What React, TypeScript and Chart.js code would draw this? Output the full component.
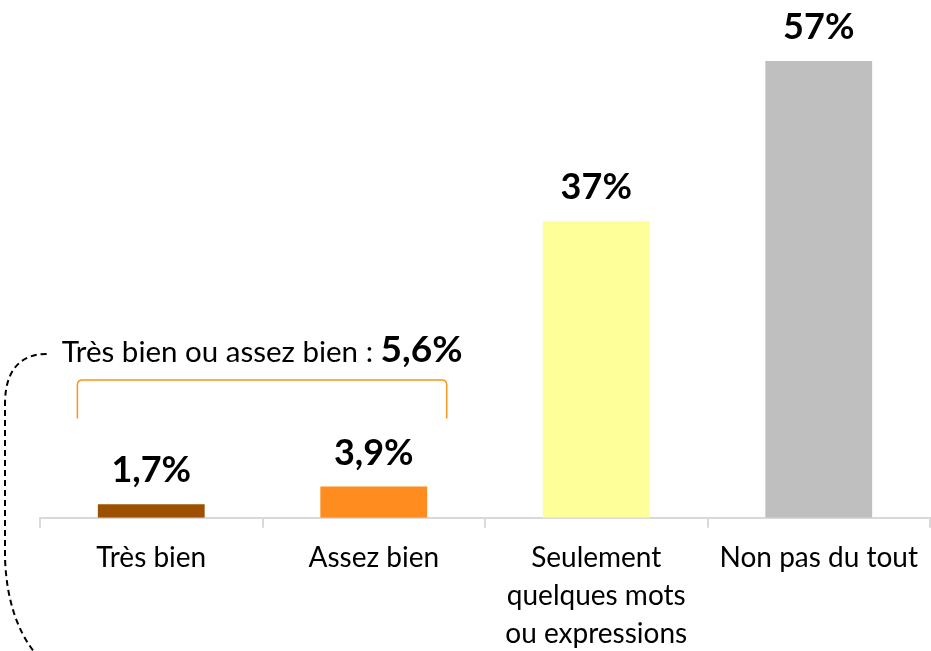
import React, { useEffect, useRef } from "react";
import { Chart, registerables } from "chart.js";

Chart.register(...registerables);

const categories: (string | string[])[] = [
  "Très bien",
  "Assez bien",
  ["Seulement", "quelques mots", "ou expressions"],
  "Non pas du tout",
];
const values = [1.7, 3.9, 37, 57];
const valueLabels = ["1,7%", "3,9%", "37%", "57%"];
const barColors = ["#9C5000", "#FF8C1E", "#FFFF99", "#BFBFBF"];
const groupLabel = "Très bien ou assez bien : ";
const groupValue = "5,6%";
const groupIndices = [0, 1];

const FONT = "Lato, 'Open Sans', sans-serif";

const decorPlugin = {
  id: "decor",
  afterDatasetsDraw(chart: any) {
    const ctx = chart.ctx;
    const meta = chart.getDatasetMeta(0);
    const xs = chart.scales.x;
    const ys = chart.scales.y;
    ctx.save();
    // value labels
    ctx.fillStyle = "#000";
    ctx.font = `bold 36px ${FONT}`;
    ctx.textAlign = "center";
    ctx.textBaseline = "alphabetic";
    meta.data.forEach((bar: any, i: number) => {
      ctx.fillText(valueLabels[i], bar.x, bar.y - 22);
    });

    // bracket
    const catW = (xs.right - xs.left) / categories.length;
    const b0 = meta.data[groupIndices[0]];
    const b1 = meta.data[groupIndices[groupIndices.length - 1]];
    const left = b0.x - catW * 0.332;
    const right = b1.x + catW * 0.328;
    const top = ys.getPixelForValue(17.2);
    const bottom = ys.getPixelForValue(12.4);
    const r = 5;
    ctx.strokeStyle = "#F7961E";
    ctx.lineWidth = 1.5;
    ctx.beginPath();
    ctx.moveTo(left, bottom);
    ctx.lineTo(left, top + r);
    ctx.quadraticCurveTo(left, top, left + r, top);
    ctx.lineTo(right - r, top);
    ctx.quadraticCurveTo(right, top, right, top + r);
    ctx.lineTo(right, bottom);
    ctx.stroke();

    // group label
    const cx = (left + right) / 2;
    const ty = top - 18;
    ctx.font = `29.5px ${FONT}`;
    const w1 = ctx.measureText(groupLabel).width;
    ctx.font = `bold 37px ${FONT}`;
    const w2 = ctx.measureText(groupValue).width;
    const tx = cx - (w1 + w2) / 2;
    ctx.textAlign = "left";
    ctx.fillStyle = "#000";
    ctx.font = `29.5px ${FONT}`;
    ctx.fillText(groupLabel, tx, ty);
    ctx.font = `bold 37px ${FONT}`;
    ctx.fillText(groupValue, tx + w1, ty);

    // dashed connector
    const sx = tx - 15;
    const sy = ty - 8;
    const vx = 5;
    ctx.strokeStyle = "#000";
    ctx.lineWidth = 2;
    ctx.setLineDash([6, 4]);
    ctx.beginPath();
    ctx.moveTo(sx, sy);
    ctx.bezierCurveTo(sx - 25, sy, vx, sy + 15, vx, sy + 50);
    ctx.lineTo(vx, ys.bottom + 40);
    ctx.quadraticCurveTo(vx + 2, ys.bottom + 100, vx + 30, chart.height + 2);
    ctx.stroke();
    ctx.restore();
  },
};

export default function App() {
  const ref = useRef<HTMLCanvasElement>(null);
  useEffect(() => {
    if (!ref.current) return;
    const chart = new Chart(ref.current, {
      type: "bar",
      data: {
        labels: categories,
        datasets: [
          {
            data: values,
            backgroundColor: barColors,
            borderWidth: 0,
            barPercentage: 0.6,
            categoryPercentage: 0.8,
          },
        ],
      },
      options: {
        animation: false,
        responsive: false,
        maintainAspectRatio: false,
        layout: { padding: { top: 37, left: 40, right: 1, bottom: -13 } },
        plugins: { legend: { display: false }, tooltip: { enabled: false } },
        scales: {
          x: {
            offset: true,
            grid: {
              offset: true,
              drawOnChartArea: false,
              drawTicks: true,
              tickLength: 10,
              color: "#D9D9D9",
              lineWidth: 2,
            },
            border: { display: true, color: "#D9D9D9", width: 2 },
            ticks: {
              color: "#000",
              font: { family: FONT, size: 28, lineHeight: 1.36 },
              padding: 11,
              maxRotation: 0,
              autoSkip: false,
            },
          },
          y: {
            display: false,
            min: 0,
            max: 60,
          },
        },
      },
      plugins: [decorPlugin],
    });
    return () => chart.destroy();
  }, []);
  return (
    <div style={{ position: "fixed", left: 0, top: 0, width: 931, height: 651, background: "#fff" }}>
      <canvas ref={ref} width={931} height={651} style={{ width: 931, height: 651 }} />
    </div>
  );
}
